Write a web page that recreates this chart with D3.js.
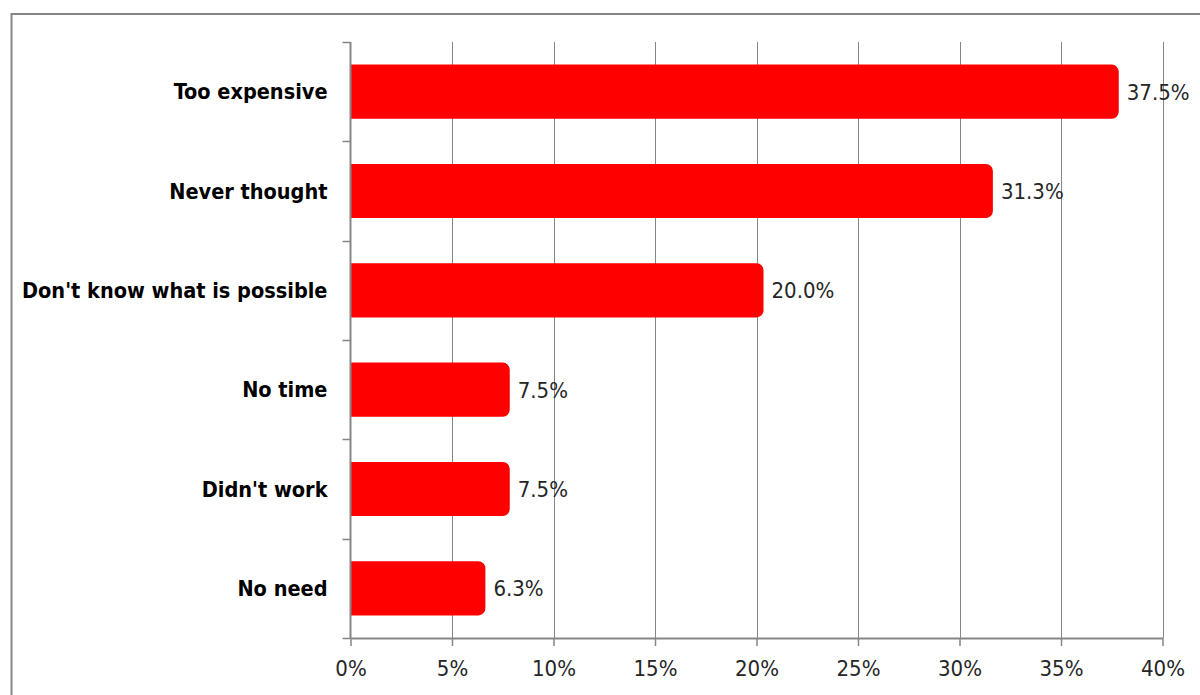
<!DOCTYPE html>
<html><head><meta charset="utf-8">
<script src="https://cdn.jsdelivr.net/npm/d3@7"></script>
<style>
body{margin:0;background:#fff}
svg{display:block}
</style>
</head><body>
<svg id="chart" width="1200" height="695"></svg>
<script>
// Reasons given, in the order they appear from top to bottom
const categories = ["Too expensive", "Never thought", "Don't know what is possible", "No time", "Didn't work", "No need"];
// Share of respondents for each reason (%)
const values = [37.5, 31.3, 20.0, 7.5, 7.5, 6.3];
// Horizontal axis ticks (%)
const xTicks = [0, 5, 10, 15, 20, 25, 30, 35, 40];

const svg = d3.select("#chart");
const gray = "#868686";
const plot = {left: 350.5, right: 1162.5, top: 42, bottom: 638};

// outer chart frame (continues past the right and bottom edges)
svg.append("rect")
  .attr("x", 11.5).attr("y", 14).attr("width", 1300).attr("height", 800)
  .attr("fill", "none").attr("stroke", gray).attr("stroke-width", 2);

const x = d3.scaleLinear().domain([0, 40]).range([plot.left, plot.right]);
const y = d3.scaleBand().domain(categories).range([plot.top, plot.bottom]).padding(0);

// vertical gridlines
svg.append("g").selectAll("line").data(xTicks.slice(1)).join("line")
  .attr("x1", d => Math.round(x(d)) + 0.5).attr("x2", d => Math.round(x(d)) + 0.5)
  .attr("y1", plot.top).attr("y2", plot.bottom)
  .attr("stroke", gray).attr("stroke-width", 1);

// bars: rounded ends come from a thick round-joined outline, clipped at the axis
svg.append("defs").append("clipPath").attr("id", "plotClip")
  .append("rect").attr("x", plot.left).attr("y", 0).attr("width", 1200).attr("height", 695);

const barH = y.bandwidth() * 0.545;
const sw = 14;
svg.append("g").attr("clip-path", "url(#plotClip)")
  .selectAll("rect").data(values).join("rect")
  .attr("x", x(0) - sw)
  .attr("y", (d, i) => y(categories[i]) + y.bandwidth() / 2 - barH / 2 + sw / 2)
  .attr("width", d => x(d) - x(0) + sw)
  .attr("height", barH - sw)
  .attr("fill", "#ff0000").attr("stroke", "#ff0000")
  .attr("stroke-width", sw).attr("stroke-linejoin", "round");

// value labels
svg.append("g").selectAll("text").data(values).join("text")
  .attr("x", d => x(d) + sw / 2 + 8)
  .attr("y", (d, i) => y(categories[i]) + y.bandwidth() / 2)
  .attr("dy", "0.36em")
  .attr("font-family", "'DejaVu Sans Condensed', 'DejaVu Sans', sans-serif")
  .attr("font-size", 22).attr("fill", "#262626")
  .text(d => d.toFixed(1) + "%");

// x axis
const xAxis = svg.append("g").attr("transform", `translate(0,${plot.bottom})`)
  .call(d3.axisBottom(x).tickValues(xTicks).tickFormat(d => d + "%").tickSizeInner(8).tickSizeOuter(0).tickPadding(14));
xAxis.select(".domain").attr("stroke", gray).attr("stroke-width", 2);
xAxis.selectAll(".tick line").attr("stroke", gray).attr("stroke-width", 1.5);
xAxis.selectAll("text")
  .attr("font-family", "'DejaVu Sans Condensed', 'DejaVu Sans', sans-serif")
  .attr("font-size", 22).attr("fill", "#262626");

// y axis: ticks sit between categories
const yAxisG = svg.append("g");
yAxisG.append("line")
  .attr("x1", plot.left).attr("x2", plot.left)
  .attr("y1", plot.top).attr("y2", plot.bottom)
  .attr("stroke", gray).attr("stroke-width", 2);
const bounds = categories.map(c => y(c)).concat([plot.bottom]);
yAxisG.selectAll("line.tk").data(bounds).join("line").attr("class", "tk")
  .attr("x1", plot.left - 8).attr("x2", plot.left)
  .attr("y1", d => Math.round(d) + 0.5).attr("y2", d => Math.round(d) + 0.5)
  .attr("stroke", gray).attr("stroke-width", 1.5);

// category labels
yAxisG.selectAll("text").data(categories).join("text")
  .attr("x", plot.left - 23)
  .attr("y", d => y(d) + y.bandwidth() / 2)
  .attr("dy", "0.36em")
  .attr("text-anchor", "end")
  .attr("font-family", "'DejaVu Sans Condensed', 'DejaVu Sans', sans-serif")
  .attr("font-weight", "bold")
  .attr("font-size", 21.5).attr("fill", "#000")
  .text(d => d);
</script>
</body></html>
